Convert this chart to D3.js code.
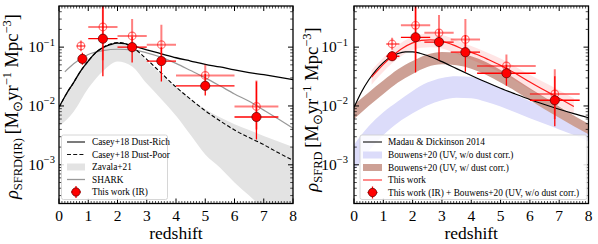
<!DOCTYPE html>
<html><head><meta charset="utf-8">
<script src="https://cdn.jsdelivr.net/npm/d3@7"></script>
<style>
html,body{margin:0;padding:0;background:#fff;}
text{font-family:"Liberation Serif","Times New Roman",serif;}
</style></head>
<body><svg id="c" width="598" height="244"></svg>
<script>
// ---------------- data ----------------
const xTickLabels = ["0","1","2","3","4","5","6","7","8"];
const yTickExps = ["\u22123","\u22122","\u22121"];

// Left panel
const caseyZ = [0,0.25,0.5,0.75,1,1.25,1.5,1.75,2,2.25,2.5,3,3.5,4,4.5,5,5.5,6,6.5,7,7.5,8];
const caseyRich = [0.0095,0.016,0.025,0.04,0.058,0.08,0.098,0.11,0.117,0.115,0.106,0.09,0.077,0.066,0.058,0.051,0.046,0.041,0.037,0.034,0.031,0.028];
const caseyPoor = [0.0095,0.016,0.025,0.04,0.058,0.08,0.099,0.113,0.12,0.115,0.1,0.062,0.036,0.021,0.013,0.0083,0.0056,0.0039,0.0029,0.0022,0.0016,0.0012];
const zavalaZ = [0,0.5,1,1.5,2,2.5,3,3.5,4,4.5,5,5.5,6,6.5,7,7.5,8];
const zavalaHi = [0.0095,0.025,0.057,0.098,0.12,0.098,0.058,0.034,0.021,0.013,0.0088,0.0064,0.0049,0.0039,0.0031,0.0025,0.002];
const zavalaLo = [0.0045,0.008,0.02,0.039,0.057,0.047,0.024,0.013,0.0068,0.0032,0.0015,0.0009,0.0005,0.0003,0.00018,0.00012,0.0001];
const sharkZ = [0.2,0.5,1,1.5,2,2.5,3,3.5,4,4.5,5,5.5,6,6.5,7,7.5,8];
const shark = [0.038,0.052,0.075,0.087,0.092,0.09,0.08,0.067,0.053,0.04,0.03,0.022,0.016,0.012,0.0085,0.006,0.0042];

// This work (IR): z, zlo, zhi, value, lo, hi
const irZ    = [0.8,1.5,2.5,3.5,5.0,6.75];
const irZlo  = [0.65,1.0,2.0,3.0,4.0,6.0];
const irZhi  = [0.95,2.0,3.0,4.0,6.0,7.5];
const irVal  = [0.063,0.139,0.1,0.058,0.022,0.0065];
const irLo   = [0.05,0.032,0.055,0.026,0.015,0.0027];
const irHi   = [0.08,0.6,0.15,0.1,0.035,0.026];
const irOpenZ   = [0.75,1.5,2.5,3.5,5.0,6.75];
const irOpenVal = [0.105,0.22,0.155,0.11,0.033,0.0098];
const irOpenLo  = [0.085,0.06,0.08,0.05,0.02,0.004];
const irOpenHi  = [0.13,0.6,0.3,0.24,0.05,0.027];
const irOpenZlo = [0.6,1.0,2.0,3.0,4.0,6.0];
const irOpenZhi = [0.9,2.0,3.0,4.0,6.0,7.5];

// Right panel
const mdZ = [0,0.25,0.5,0.75,1,1.25,1.5,1.75,2,2.25,2.5,3,3.5,4,4.5,5,5.5,6,6.5,7,7.5,8];
const md  = [0.0094,0.0171,0.0276,0.0404,0.0546,0.068,0.0781,0.0832,0.0831,0.0787,0.072,0.0566,0.0431,0.033,0.0255,0.020,0.016,0.0129,0.0106,0.0088,0.0074,0.0063];
const bZ = [0,0.5,1,1.5,2,2.5,3,3.5,4,4.5,5,5.5,6,6.5,7,7.5,8];
const blueHi = [0.0022,0.0045,0.0078,0.012,0.018,0.025,0.03,0.032,0.031,0.026,0.02,0.0155,0.012,0.0093,0.0072,0.0055,0.0042];
const blueLo = [0.0008,0.0017,0.0032,0.0052,0.0075,0.0102,0.0125,0.0138,0.0135,0.0118,0.0098,0.0078,0.0062,0.005,0.004,0.0032,0.0025];
const brownHi = [0.0105,0.017,0.027,0.042,0.058,0.075,0.083,0.08,0.07,0.056,0.041,0.029,0.02,0.014,0.0098,0.0069,0.005];
const brownLo = [0.006,0.01,0.016,0.025,0.035,0.046,0.051,0.049,0.043,0.034,0.025,0.018,0.0125,0.0088,0.0063,0.0045,0.0033];
const redZ   = [0.6,0.8,1,1.3,1.6,2,2.3,2.6,3,3.4,3.8,4.2,4.6,5,5.5,6,6.5,7,7.5];
const redFit = [0.031,0.04,0.051,0.07,0.092,0.118,0.13,0.133,0.126,0.108,0.088,0.075,0.061,0.049,0.036,0.0255,0.0185,0.0135,0.0098];
const redHi  = [0.04,0.052,0.066,0.09,0.118,0.15,0.165,0.168,0.16,0.138,0.113,0.096,0.079,0.064,0.047,0.034,0.025,0.0185,0.0135];
const redLo  = [0.023,0.03,0.038,0.053,0.069,0.089,0.098,0.1,0.095,0.081,0.066,0.056,0.046,0.037,0.027,0.019,0.0138,0.01,0.0072];

const totZ   = [1.3,2.1,2.9,3.8,5.2,6.85];
const totZlo = [1.1,1.6,2.4,3.3,4.2,6.0];
const totZhi = [1.55,2.6,3.4,4.3,6.2,7.7];
const totVal = [0.07,0.147,0.122,0.082,0.036,0.0125];
const totLo  = [0.058,0.037,0.06,0.038,0.022,0.0045];
const totHi  = [0.085,0.6,0.2,0.16,0.05,0.032];
const totOpenVal = [0.113,0.235,0.175,0.135,0.048,0.016];
const totOpenLo  = [0.09,0.06,0.1,0.07,0.03,0.006];
const totOpenHi  = [0.145,0.6,0.35,0.3,0.075,0.042];

const leftLegend = ["Casey+18 Dust-Rich","Casey+18 Dust-Poor","Zavala+21","SHARK","This work (IR)"];
const rightLegend = ["Madau & Dickinson 2014","Bouwens+20 (UV, w/o dust corr.)","Bouwens+20 (UV, w/ dust corr.)","This work","This work (IR) + Bouwens+20 (UV, w/o dust corr.)"];

// ---------------- drawing ----------------
const svg = d3.select("#c");
const TOP = 6, BOT = 203.5;
const RED = "#ff0000";

function zip(zs, vs){ return zs.map((z,i)=>({z, v:vs[i]})); }
function zip2(zs, lo, hi){ return zs.map((z,i)=>({z, lo:lo[i], hi:hi[i]})); }

function panel(x0, x1, id){
  const g = svg.append("g");
  const x = d3.scaleLinear().domain([0,8]).range([x0,x1]);
  const y = d3.scaleLog().domain([2.2e-4,0.5]).range([BOT,TOP]);
  svg.append("clipPath").attr("id",id).append("rect")
    .attr("x",x0).attr("y",TOP).attr("width",x1-x0).attr("height",BOT-TOP);
  const plot = g.append("g").attr("clip-path",`url(#${id})`);
  return {g, plot, x, y, x0, x1};
}

function band(p, zs, lo, hi, fill, op){
  const a = d3.area().x(d=>p.x(d.z)).y0(d=>p.y(d.lo)).y1(d=>p.y(d.hi)).curve(d3.curveMonotoneX);
  p.plot.append("path").attr("d", a(zip2(zs,lo,hi))).attr("fill",fill).attr("fill-opacity",op).attr("stroke","none");
}
function line(p, zs, vs, color, w, dash){
  const l = d3.line().x(d=>p.x(d.z)).y(d=>p.y(d.v)).curve(d3.curveMonotoneX);
  const path = p.plot.append("path").attr("d", l(zip(zs,vs))).attr("fill","none")
    .attr("stroke",color).attr("stroke-width",w);
  if (dash) path.attr("stroke-dasharray",dash);
}
function points(p, zs, zlo, zhi, vs, lo, hi, open){
  const g = p.plot.append("g");
  zs.forEach((z,i)=>{
    const cx = p.x(z), cy = p.y(vs[i]);
    const sw = open ? 2.0 : 1.3;
    const col = open ? "rgba(255,0,0,0.5)" : RED;
    g.append("line").attr("x1",p.x(zlo[i])).attr("x2",p.x(zhi[i])).attr("y1",cy).attr("y2",cy)
      .attr("stroke",col).attr("stroke-width",sw);
    g.append("line").attr("x1",cx).attr("x2",cx).attr("y1",p.y(lo[i])).attr("y2",p.y(hi[i]))
      .attr("stroke",col).attr("stroke-width",sw);
    if (open){
      g.append("circle").attr("cx",cx).attr("cy",cy).attr("r",3.8).attr("fill","none")
        .attr("stroke","rgba(255,0,0,0.55)").attr("stroke-width",1.2);
    } else {
      g.append("circle").attr("cx",cx).attr("cy",cy).attr("r",4.6).attr("fill",RED)
        .attr("stroke","#500").attr("stroke-width",0.7);
    }
  });
}

function axes(p, labelGap){
  const g = p.g;
  const {x,y,x0,x1} = p;
  const majorX = d3.range(0,9,1);
  const minorX = d3.range(0,80).map(i=>i/10).filter(v=>Math.abs(v-Math.round(v))>1e-6);
  const majorY = [1e-3,1e-2,1e-1];
  const minorY = [];
  [-4,-3,-2,-1].forEach(e=>{ for(let m=2;m<=9;m++){ const v=m*Math.pow(10,e); if(v>2.2e-4 && v<0.5) minorY.push(v);} });
  const tk = g.append("g").attr("stroke","#000");
  majorX.forEach(v=>{
    tk.append("line").attr("x1",x(v)).attr("x2",x(v)).attr("y1",BOT).attr("y2",BOT-5).attr("stroke-width",1);
    tk.append("line").attr("x1",x(v)).attr("x2",x(v)).attr("y1",TOP).attr("y2",TOP+5).attr("stroke-width",1);
  });
  minorX.forEach(v=>{
    tk.append("line").attr("x1",x(v)).attr("x2",x(v)).attr("y1",BOT).attr("y2",BOT-2.5).attr("stroke-width",0.7);
    tk.append("line").attr("x1",x(v)).attr("x2",x(v)).attr("y1",TOP).attr("y2",TOP+2.5).attr("stroke-width",0.7);
  });
  majorY.forEach(v=>{
    tk.append("line").attr("x1",x0).attr("x2",x0+5).attr("y1",y(v)).attr("y2",y(v)).attr("stroke-width",1);
    tk.append("line").attr("x1",x1).attr("x2",x1-5).attr("y1",y(v)).attr("y2",y(v)).attr("stroke-width",1);
  });
  minorY.forEach(v=>{
    tk.append("line").attr("x1",x0).attr("x2",x0+2.8).attr("y1",y(v)).attr("y2",y(v)).attr("stroke-width",0.7);
    tk.append("line").attr("x1",x1).attr("x2",x1-2.8).attr("y1",y(v)).attr("y2",y(v)).attr("stroke-width",0.7);
  });
  g.append("rect").attr("x",x0).attr("y",TOP).attr("width",x1-x0).attr("height",BOT-TOP)
    .attr("fill","none").attr("stroke","#000").attr("stroke-width",1.3);
  majorX.forEach((v,i)=>{
    g.append("text").attr("x",x(v)).attr("y",220.5).attr("text-anchor","middle")
      .attr("font-size",15.5).text(xTickLabels[i]);
  });
  majorY.forEach((v,i)=>{
    const t = g.append("text").attr("x",x0-labelGap).attr("y",y(v)+5).attr("text-anchor","end").attr("font-size",15.5);
    t.append("tspan").text("10");
    t.append("tspan").attr("dy",-6.5).attr("font-size",10.5).text(yTickExps[i]);
  });
  g.append("text").attr("x",(x0+x1)/2).attr("y",239).attr("text-anchor","middle")
    .attr("font-size",17.5).text("redshift");
}

function ylabel(xp, yp, sub){
  const t = svg.append("text").attr("transform",`translate(${xp},${yp}) rotate(-90)`)
    .attr("text-anchor","middle").attr("font-size",18.5);
  t.append("tspan").attr("font-style","italic").text("\u03c1");
  t.append("tspan").attr("dy",4.5).attr("font-size",12.5).text(sub);
  t.append("tspan").attr("dy",-4.5).text("\u2009[M");
  t.append("tspan").attr("dy",4).attr("font-size",12.5).text("\u2299");
  t.append("tspan").attr("dy",-4).text("yr");
  t.append("tspan").attr("dy",-7).attr("font-size",12.5).text("\u22121");
  t.append("tspan").attr("dy",7).text(" Mpc");
  t.append("tspan").attr("dy",-7).attr("font-size",12.5).text("\u22123");
  t.append("tspan").attr("dy",7).text("]");
}

function legendBox(g, x, y, w, h){
  g.append("rect").attr("x",x).attr("y",y).attr("width",w).attr("height",h).attr("rx",2)
    .attr("fill","#fff").attr("fill-opacity",0.85).attr("stroke","#ccc").attr("stroke-width",0.8);
}
function legendMarker(g, cx, cy){
  g.append("line").attr("x1",cx-5).attr("x2",cx+5).attr("y1",cy).attr("y2",cy).attr("stroke",RED).attr("stroke-width",1.3);
  g.append("line").attr("x1",cx).attr("x2",cx).attr("y1",cy-6).attr("y2",cy+6).attr("stroke",RED).attr("stroke-width",1.3);
  g.append("circle").attr("cx",cx).attr("cy",cy).attr("r",4.2).attr("fill",RED).attr("stroke","#500").attr("stroke-width",0.7);
}

// ---------- left panel ----------
const L = panel(59, 293, "clipL");
band(L, zavalaZ, zavalaLo, zavalaHi, "#e3e3e3", 1);
line(L, sharkZ, shark, "#999", 1.2);
line(L, caseyZ, caseyPoor, "#000", 1.1, "4,2.2");
line(L, caseyZ, caseyRich, "#000", 1.3);
points(L, irOpenZ, irOpenZlo, irOpenZhi, irOpenVal, irOpenLo, irOpenHi, true);
points(L, irZ, irZlo, irZhi, irVal, irLo, irHi, false);
axes(L, 4);
{
  const lg = L.g.append("g");
  legendBox(lg, 61.5, 135, 106, 64.5);
  const ys = [142,154.5,167,179.5,192];
  const hx0 = 67, hx1 = 85, tx = 92;
  lg.append("line").attr("x1",hx0).attr("x2",hx1).attr("y1",ys[0]).attr("y2",ys[0]).attr("stroke","#333").attr("stroke-width",1.3);
  lg.append("line").attr("x1",hx0).attr("x2",hx1).attr("y1",ys[1]).attr("y2",ys[1]).attr("stroke","#111").attr("stroke-width",1.1).attr("stroke-dasharray","4,2.2");
  lg.append("rect").attr("x",hx0).attr("y",ys[2]-3.5).attr("width",hx1-hx0).attr("height",7).attr("fill","#e3e3e3");
  lg.append("line").attr("x1",hx0).attr("x2",hx1).attr("y1",ys[3]).attr("y2",ys[3]).attr("stroke","#999").attr("stroke-width",1.3);
  legendMarker(lg, (hx0+hx1)/2, ys[4]);
  leftLegend.forEach((s,i)=>{
    lg.append("text").attr("x",tx).attr("y",ys[i]+3.2).attr("font-size",9.3).text(s);
  });
}
ylabel(17.5, 106.5, "SFRD(IR)");

// ---------- right panel ----------
const R = panel(354, 588.5, "clipR");
band(R, bZ, blueLo, blueHi, "#dcdcfa", 1);
band(R, bZ, brownLo, brownHi, "#cda095", 1);
band(R, redZ, redLo, redHi, "#ff0000", 0.1);
line(R, mdZ, md, "#000", 1.2);
line(R, redZ, redFit, "#ff1a1a", 1.2);
points(R, totZ, totZlo, totZhi, totOpenVal, totOpenLo, totOpenHi, true);
points(R, totZ, totZlo, totZhi, totVal, totLo, totHi, false);
axes(R, 6);
{
  const lg = R.g.append("g");
  legendBox(lg, 360, 135, 227, 64.5);
  const ys = [142,155,167.5,180,192.5];
  const hx0 = 363, hx1 = 382, tx = 388;
  lg.append("line").attr("x1",hx0).attr("x2",hx1).attr("y1",ys[0]).attr("y2",ys[0]).attr("stroke","#222").attr("stroke-width",1.2);
  lg.append("rect").attr("x",hx0).attr("y",ys[1]-3.5).attr("width",hx1-hx0).attr("height",7).attr("fill","#dcdcfa");
  lg.append("rect").attr("x",hx0).attr("y",ys[2]-3.5).attr("width",hx1-hx0).attr("height",7).attr("fill","#cda095");
  lg.append("line").attr("x1",hx0).attr("x2",hx1).attr("y1",ys[3]).attr("y2",ys[3]).attr("stroke","#ff4d4d").attr("stroke-width",1.3);
  legendMarker(lg, (hx0+hx1)/2, ys[4]);
  rightLegend.forEach((s,i)=>{
    lg.append("text").attr("x",tx).attr("y",ys[i]+3.2).attr("font-size",9.3).text(s);
  });
}
ylabel(317.5, 109.5, "SFRD");
</script></body></html>
